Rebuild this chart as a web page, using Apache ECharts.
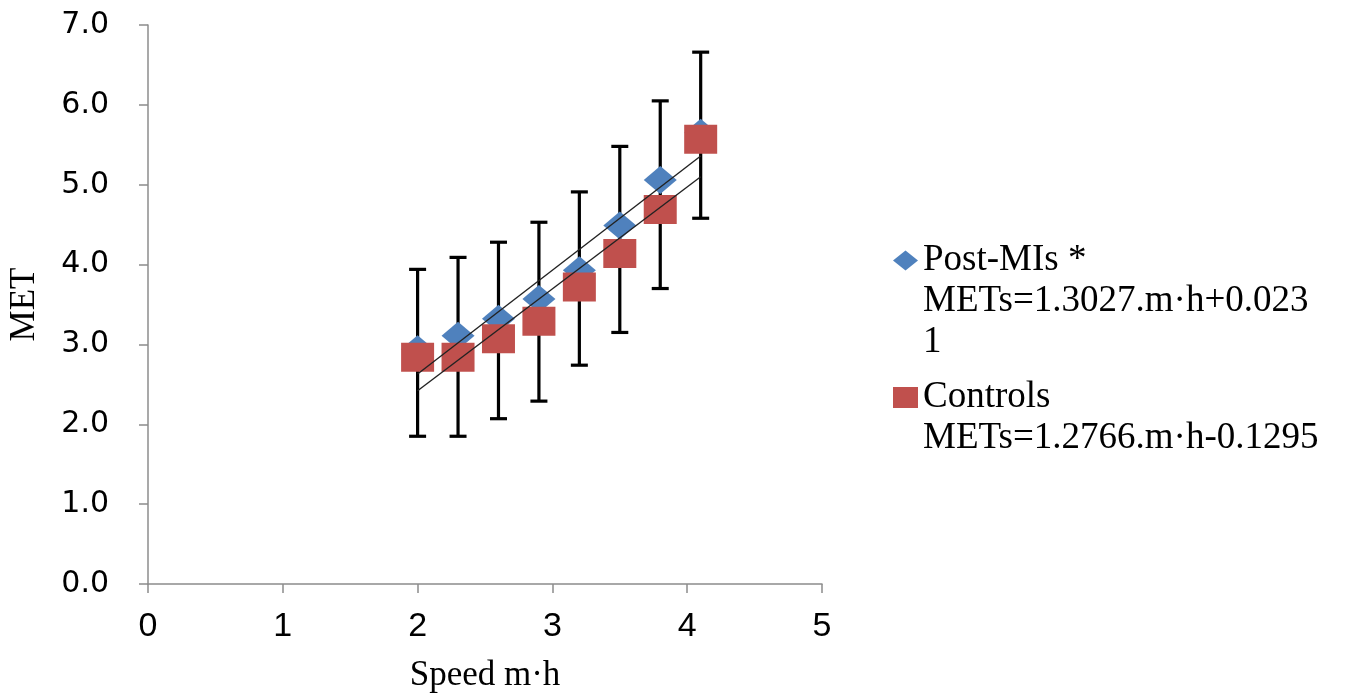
<!DOCTYPE html>
<html>
<head>
<meta charset="utf-8">
<script src="https://cdn.jsdelivr.net/npm/echarts@6/dist/echarts.min.js"></script>
<style>
  html, body { margin: 0; padding: 0; background: #fff; }
  #chart { width: 1371px; height: 694px; }
</style>
</head>
<body>
<div id="chart"></div>
<script>
// ---- data ----
var speeds = [2.0, 2.3, 2.6, 2.9, 3.2, 3.5, 3.8, 4.1];
var postMI = [2.94, 3.11, 3.32, 3.57, 3.93, 4.49, 5.06, 5.65];
var controls = [2.84, 2.84, 3.07, 3.29, 3.72, 4.14, 4.69, 5.57];
var errTop = [3.94, 4.09, 4.28, 4.53, 4.91, 5.48, 6.05, 6.66];
var errBottom = [1.85, 1.85, 2.07, 2.29, 2.74, 3.15, 3.70, 4.58];
var trendPostX = [2.0, 4.1];
var trendPostY = [2.63, 5.36];
var trendCtrlX = [2.0, 4.1];
var trendCtrlY = [2.42, 5.10];
var postName = 'Post-MIs *';
var postEquation = ['METs=1.3027.m·h+0.023', '1'];
var ctrlName = 'Controls';
var ctrlEquation = ['METs=1.2766.m·h-0.1295'];
var xTicks = [0, 1, 2, 3, 4, 5];
var yTicks = [0, 1, 2, 3, 4, 5, 6, 7];
var xTitle = 'Speed m·h';
var yTitle = 'MET';

function pairs(xs, ys) { return xs.map(function (x, i) { return [x, ys[i]]; }); }
// legend icon sits at the vertical middle of the text block: pad with leading
// empty lines so the icon lines up with the first text line
function legendText(name, extra) {
  var lines = [name].concat(extra);
  var pad = [];
  for (var i = 0; i < lines.length - 1; i++) pad.push('');
  return pad.concat(lines).join('\n');
}

var chart = echarts.init(document.getElementById('chart'));
var serif = 'Liberation Serif, Times New Roman, serif';
var axisGray = '#8c8c8c';

var option = {
  backgroundColor: '#ffffff',
  animation: false,
  grid: { left: 148, right: 549, top: 25, bottom: 110, containLabel: false, outerBoundsMode: 'none' },
  xAxis: {
    type: 'value', min: xTicks[0], max: xTicks[xTicks.length - 1], interval: 1,
    name: xTitle, nameLocation: 'middle', nameGap: 74,
    nameTextStyle: { fontFamily: serif, fontSize: 35, color: '#000' },
    axisLine: { show: true, onZero: false, lineStyle: { color: axisGray, width: 1.5 } },
    axisTick: { show: true, inside: false, length: 9, lineStyle: { color: axisGray, width: 1.5 } },
    axisLabel: { fontFamily: 'Liberation Sans, Arial, sans-serif', fontSize: 34, color: '#000', margin: 26,
      formatter: function (v) { return String(v); } },
    splitLine: { show: false }
  },
  yAxis: {
    type: 'value', min: yTicks[0], max: yTicks[yTicks.length - 1], interval: 1,
    name: yTitle, nameLocation: 'middle', nameGap: 106, nameRotate: 90,
    nameTextStyle: { fontFamily: serif, fontSize: 35, color: '#000' },
    axisLine: { show: true, lineStyle: { color: axisGray, width: 1.5 } },
    axisTick: { show: true, inside: false, length: 9, lineStyle: { color: axisGray, width: 1.5 } },
    axisLabel: { fontFamily: 'DejaVu Sans, Verdana, sans-serif', fontSize: 30, color: '#000', margin: 39,
      formatter: function (v) { return v.toFixed(1); } },
    splitLine: { show: false }
  },
  legend: [
    {
      data: [postName], orient: 'vertical', left: 888, top: 153,
      icon: 'diamond', itemWidth: 25, itemHeight: 20,
      formatter: function (n) { return legendText(n, postEquation); },
      textStyle: { fontFamily: serif, fontSize: 37, lineHeight: 41, color: '#000' }
    },
    {
      data: [ctrlName], orient: 'vertical', left: 888, top: 331,
      icon: 'rect', itemWidth: 25, itemHeight: 21,
      formatter: function (n) { return legendText(n, ctrlEquation); },
      textStyle: { fontFamily: serif, fontSize: 37, lineHeight: 41, color: '#000' }
    }
  ],
  series: [
    {
      name: 'error', type: 'custom', z: 1, silent: true,
      data: speeds.map(function (x, i) { return [x, errBottom[i], errTop[i]]; }),
      renderItem: function (params, api) {
        var x = api.value(0);
        var lo = api.coord([x, api.value(1)]);
        var hi = api.coord([x, api.value(2)]);
        var hw = 8.5;
        var st = { stroke: '#000', lineWidth: 3.2 };
        return {
          type: 'group',
          children: [
            { type: 'line', shape: { x1: hi[0], y1: hi[1], x2: lo[0], y2: lo[1] }, style: st },
            { type: 'line', shape: { x1: hi[0] - hw, y1: hi[1], x2: hi[0] + hw, y2: hi[1] }, style: st },
            { type: 'line', shape: { x1: lo[0] - hw, y1: lo[1], x2: lo[0] + hw, y2: lo[1] }, style: st }
          ]
        };
      }
    },
    {
      name: postName, type: 'scatter', z: 2,
      symbol: 'diamond', symbolSize: [33, 28],
      itemStyle: { color: '#4F81BD', opacity: 1 },
      data: pairs(speeds, postMI)
    },
    {
      name: ctrlName, type: 'scatter', z: 3,
      symbol: 'rect', symbolSize: [33, 29],
      itemStyle: { color: '#C0504D', opacity: 1 },
      data: pairs(speeds, controls)
    },
    {
      name: 'trendPost', type: 'line', z: 4, silent: true, showSymbol: false, symbol: 'none',
      lineStyle: { color: '#222', width: 1.4 },
      data: pairs(trendPostX, trendPostY)
    },
    {
      name: 'trendCtrl', type: 'line', z: 4, silent: true, showSymbol: false, symbol: 'none',
      lineStyle: { color: '#222', width: 1.4 },
      data: pairs(trendCtrlX, trendCtrlY)
    }
  ]
};
chart.setOption(option);
</script>
</body>
</html>
